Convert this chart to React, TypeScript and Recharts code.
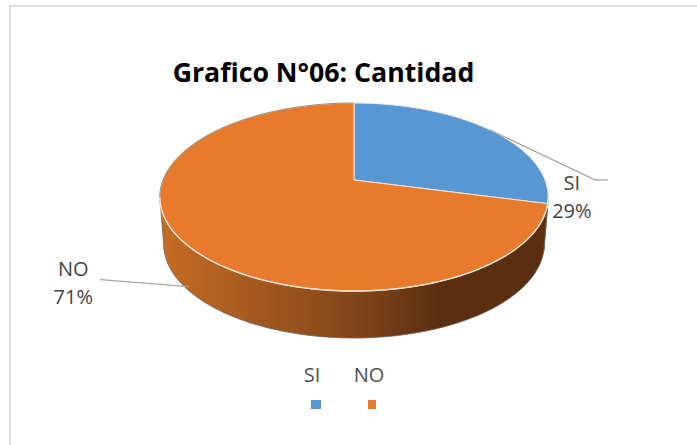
import React from "react";
import { PieChart, Pie, Cell, Legend } from "recharts";

const categories = ["SI", "NO"];
const values = [29, 71];
const colors = ["#5797D3", "#E87A2E"];
const titleText = "Grafico N°06: Cantidad";

const rows = categories.map((name, i) => ({ name, value: values[i] }));

const FONT = "'Open Sans', sans-serif";
const TILT = 0.476;
const PERSPECTIVE = 0.181;
const DEPTH = 47;
const SHRINK = 0.98;
const FRONT_START = -10.4;
const FRONT_END = -169.6;

function project(cx: number, cy: number, r: number, deg: number) {
  const a = (deg * Math.PI) / 180;
  const u = Math.cos(a);
  const v = -Math.sin(a);
  const d = 1 - PERSPECTIVE * v;
  return { x: cx + (r * u) / d, y: cy + (r * TILT * v) / d };
}

function arc(cx: number, cy: number, r: number, from: number, to: number) {
  const n = Math.max(2, Math.ceil(Math.abs(to - from) / 2));
  const pts = [];
  for (let i = 0; i <= n; i++) pts.push(project(cx, cy, r, from + ((to - from) * i) / n));
  return pts;
}

const toPath = (pts: { x: number; y: number }[]) =>
  pts.map((p, i) => `${i ? "L" : "M"}${p.x.toFixed(2)} ${p.y.toFixed(2)}`).join(" ");

function Slice(props: any) {
  const { cx, cy, outerRadius: r, startAngle, endAngle, fill } = props;
  const outer = arc(cx, cy, r, startAngle, endAngle);
  const from = Math.min(startAngle, FRONT_START);
  const to = Math.max(endAngle, FRONT_END);
  const front = from > to ? arc(cx, cy, r, from, to) : [];
  const lower = front
    .map((p) => ({ x: cx + (p.x - cx) * SHRINK, y: p.y + DEPTH }))
    .reverse();
  return (
    <g>
      {front.length > 0 && (
        <path
          d={`${toPath(front)} ${toPath(lower).replace("M", "L")} Z`}
          fill="url(#wallShade)"
          stroke="#6b6258"
          strokeWidth={0.8}
        />
      )}
      <path
        d={`M${cx} ${cy} ${toPath(outer).replace("M", "L")} Z`}
        fill={fill}
        stroke="#f6e6da"
        strokeWidth={1}
      />
      <path d={toPath(outer)} fill="none" stroke="#7d7670" strokeWidth={0.8} strokeOpacity={from > to ? 0 : 0.9} />
      {from > to && <path d={toPath(front)} fill="none" stroke="#f7e3d3" strokeWidth={1.4} />}
      {from > to && (
        <path
          d={toPath(arc(cx, cy, r, FRONT_END, endAngle))}
          fill="none"
          stroke="#7d7670"
          strokeWidth={0.8}
        />
      )}
    </g>
  );
}

function SliceLabel(props: any) {
  const { cx, cy, outerRadius: r, midAngle, name, percent } = props;
  const p = project(cx, cy, r, midAngle);
  const right = p.x > cx;
  const start = right ? p : { x: p.x + 4, y: p.y + 44 };
  const bend = right ? { x: p.x + 105, y: p.y + 50 } : { x: p.x - 84, y: p.y + 37 };
  const tail = right ? { x: bend.x + 13, y: bend.y } : bend;
  const textX = right ? p.x + 82 : p.x - 111;
  const textY = right ? p.y + 60 : p.y + 33;
  return (
    <g>
      <path
        d={`M${start.x} ${start.y} L${bend.x} ${bend.y} L${tail.x} ${tail.y}`}
        fill="none"
        stroke="#a6a6a6"
        strokeWidth={1.2}
      />
      <text x={textX} y={textY} textAnchor="middle" fontFamily={FONT} fontSize={20} fill="#444444">
        {name}
      </text>
      <text x={textX} y={textY + 28} textAnchor="middle" fontFamily={FONT} fontSize={20} fill="#444444">
        {`${Math.round(percent * 100)}%`}
      </text>
    </g>
  );
}

function LegendBox({ payload }: any) {
  const xs = [311, 368];
  const items = payload ?? [];
  return (
    <div style={{ position: "relative", width: 697, height: 60 }}>
      {items.map((it: any, i: number) => (
        <React.Fragment key={it.value}>
          <div
            style={{
              position: "absolute",
              left: xs[i] - 40 + 1,
              width: 80,
              top: 0,
              textAlign: "center",
              fontFamily: FONT,
              fontSize: 20,
              lineHeight: "28px",
              color: "#505050",
            }}
          >
            {it.value}
          </div>
          <div
            style={{
              position: "absolute",
              left: xs[i],
              top: 39,
              width: i ? 8 : 10,
              height: 9,
              background: colors[i],
            }}
          />
        </React.Fragment>
      ))}
    </div>
  );
}

export default function App() {
  return (
    <div style={{ position: "absolute", left: 0, top: 0, width: 697, height: 445, overflow: "hidden", background: "#fff" }}>
      <div style={{ position: "absolute", left: 9, top: 5, right: 0, height: 2, background: "#dfdfdf" }} />
      <div style={{ position: "absolute", left: 9, top: 5, bottom: 0, width: 2, background: "#dfdfdf" }} />
      <PieChart width={697} height={445} margin={{ top: 0, right: 0, bottom: 0, left: 0 }}>
        <defs>
          <linearGradient id="wallShade" x1="0" y1="0" x2="1" y2="0">
            <stop offset="0" stopColor="#c66c24" />
            <stop offset="0.5" stopColor="#82461a" />
            <stop offset="0.72" stopColor="#5c2e10" />
            <stop offset="1" stopColor="#5c2e10" />
          </linearGradient>
        </defs>
        <text x={323.5} y={82} textAnchor="middle" fontFamily={FONT} fontWeight={700} fontSize={26.7} fill="#000">
          {titleText}
        </text>
        <Pie
          data={rows}
          dataKey="value"
          nameKey="name"
          cx={354}
          cy={180}
          outerRadius={191}
          startAngle={90}
          endAngle={-270}
          isAnimationActive={false}
          shape={Slice}
          label={SliceLabel}
          labelLine={false}
        >
          {categories.map((c, i) => (
            <Cell key={c} fill={colors[i]} />
          ))}
        </Pie>
        <Legend
          content={<LegendBox />}
          itemSorter={null}
          wrapperStyle={{ position: "absolute", left: 0, top: 361, width: 697 }}
        />
      </PieChart>
    </div>
  );
}
